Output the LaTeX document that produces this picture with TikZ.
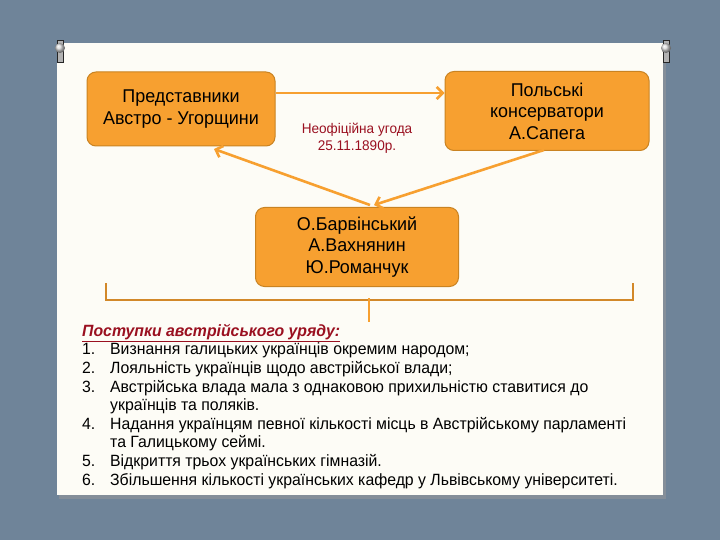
\documentclass[tikz,border=0pt]{standalone}
\usepackage{fontspec}
\setmainfont[FakeStretch=0.97]{Liberation Sans}
\usetikzlibrary{arrows.meta}
\definecolor{bg}{HTML}{6F8499}
\definecolor{paper}{HTML}{FDFCF6}
\definecolor{org}{HTML}{F7A030}
\definecolor{orgd}{HTML}{C98322}
\definecolor{dred}{HTML}{9A1020}
\tikzset{x=1pt,y=-1pt,
 box/.style={draw=orgd,line width=1pt,fill=org,rounded corners=9pt,align=center,font=\fontsize{18.5}{21.5}\selectfont,inner sep=0pt},
 arr/.style={draw=org,line width=2.6pt,-{Straight Barb[length=6pt,width=12pt]}},
 pin/.style={fill=gray!60,draw=gray!30!black,line width=0.4pt}}
\begin{document}
\begin{tikzpicture}
\fill[bg] (0,0) rectangle (720,540);
\fill[black!40,opacity=0.5] (59,45) rectangle (666,499);
\fill[paper] (57,43) rectangle (663,495);
\foreach \px in {57,663}{\fill[pin] (\px,40) rectangle (\px+6,62); \shade[ball color=gray!30] (\px+3,48) circle (5);}
\node[box,minimum width=188pt,minimum height=74pt] (a) at (181,109) {Представники\\Австро - Угорщини};
\node[box,minimum width=204pt,minimum height=79pt] (b) at (547,111) {Польські\\консерватори\\А.Сапега};
\node[box,minimum width=203pt,minimum height=79pt] (c) at (357,247) {О.Барвінський\\А.Вахнянин\\Ю.Романчук};
\node[align=center,text=dred,font=\fontsize{14}{17}\selectfont] (t) at (357,138) {Неофіційна угода\\25.11.1890р.};
\draw[arr] (a.east |- 0,93) -- (b.west |- 0,93);
\coordinate (c2) at (370,205);
\coordinate (a2) at (214,149);
\coordinate (b2) at (544,150);
\coordinate (c3) at (374,205);
\draw[arr] (c2) -- (a2);
\draw[arr] (b2) -- (c3);
\coordinate (br1) at (106,283);
\coordinate (br2) at (633,283);
\coordinate (brm) at (369,322);
\draw[org!85!black,line width=1.8pt] (br1) -- (106,300) -- (633,300) -- (br2);
\draw[org,line width=2pt] (369,298) -- (brm);
\node[anchor=north west,inner sep=0pt,font=\fontsize{16.3}{18.6}\selectfont] (l) at (82,323) {%
\begin{tabular}{@{}p{28pt}@{}l@{}}
\multicolumn{2}{@{}l}{\color{dred}\bfseries\itshape\underline{Поступки австрійського уряду:}}\\
1. & Визнання галицьких українців окремим народом;\\
2. & Лояльність українців щодо австрійської влади;\\
3. & Австрійська влада мала з однаковою прихильністю ставитися до\\
 & українців та поляків.\\
4. & Надання українцям певної кількості місць в Австрійському парламенті\\
 & та Галицькому сеймі.\\
5. & Відкриття трьох українських гімназій.\\
6. & Збільшення кількості українських кафедр у Львівському університеті.
\end{tabular}};
\end{tikzpicture}
\end{document}
